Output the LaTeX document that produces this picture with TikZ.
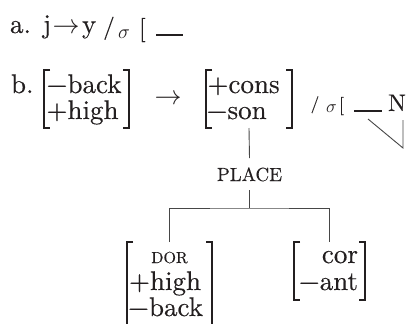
\RequirePackage{fix-cm}
\documentclass[tikz,border=0pt]{standalone}
\usepackage{fontspec}
\setmainfont{lmroman10-regular.otf}[FakeBold=0.3]
\definecolor{ink}{RGB}{35,31,32}
\definecolor{rule}{RGB}{70,70,70}
\newcommand\fsz[1]{\fontsize{#1bp}{#1bp}\selectfont}
\tikzset{
  every node/.style={inner sep=0pt, outer sep=0pt, text=ink, font=\fsz{27}},
  tx/.style={anchor=base west, text height=17bp, text depth=3bp},
  txr/.style={anchor=base east, text height=17bp, text depth=3bp},
  brk/.style={line width=1.1bp, draw=ink},
  tree/.style={line width=0.9bp, draw=rule},
  box/.style={draw=none, rectangle},
}
\begin{document}
\begin{tikzpicture}[x=1bp,y=-1bp]
\useasboundingbox (0,0) rectangle (414,324);
% line a
\node[tx] (la) at (10,33) {a.};
\node[tx] (aj) at (43,33) {j};
\node[anchor=base] (aarr) at (66,33) {$\rightarrow$};
\node[tx] (ay) at (82,33) {y};
\node[anchor=base, font=\fsz{23}] (asl) at (109,34) {/};
\node[tx, font=\fsz{20}] (asig) at (118,38) {$\sigma$};
\node[tx, font=\fsz{24}] (abr) at (139,36) {[};
\coordinate (au1) at (156,35);
\coordinate (au2) at (183,35);
\draw[brk] (au1) -- (au2);
% line b
\node[tx] (lb) at (11,93) {b.};
\node[box, minimum width=85bp, minimum height=58bp, anchor=north west] (m1) at (44,70) {};
\node[tx] (m1a) at (46.5,93) {−back};
\node[tx] (m1b) at (46.5,119) {+high};
\node[anchor=base] (barr) at (168,104.6) {$\rightarrow$};
\node[box, minimum width=86bp, minimum height=58bp, anchor=north west] (m2) at (206,70) {};
\node[tx] (m2a) at (207.5,93) {+cons};
\node[tx] (m2b) at (206.5,119) {−son};
\node[anchor=base, font=\fsz{17}] (bsl) at (315,109) {/};
\node[tx, font=\fsz{18}] (bsig) at (326,112) {$\sigma$};
\node[tx, font=\fsz{18}] (bbr) at (339,110.5) {[};
\coordinate (bu1) at (354,111);
\coordinate (bu2) at (382,111);
\draw[brk] (bu1) -- (bu2);
\node[tx, font=\fsz{24}] (bN) at (388,111) {N};
\coordinate (d1) at (368,119);
\coordinate (d2) at (403,148);
\coordinate (d3) at (403,120);
\draw[tree] (d1) -- (d2) -- (d3);
% tree
\node[anchor=base, font=\fsz{19}] (place) at (249.5,181) {PLACE};
\node[box, minimum width=85bp, minimum height=90bp, anchor=north west] (m3) at (127,242) {};
\node[anchor=base, font=\fsz{16}] (dor) at (169.5,263) {DOR};
\node[tx] (m3b) at (129,290) {+high};
\node[tx] (m3c) at (128,316) {−back};
\node[box, minimum width=71bp, minimum height=58bp, anchor=north west] (m4) at (294,242) {};
\node[txr] (m4a) at (358,263) {cor};
\node[txr] (m4b) at (358,290) {−ant};
\coordinate (pt) at (249.5,158);
\coordinate (pb) at (249.5,190);
\coordinate (hj) at (249.5,208);
\draw[tree] (m2.south) -- (pt);
\draw[tree] (pb) -- (hj);
\draw[tree] (m3.north) |- (hj) -| (m4.north);
% brackets
\foreach \m in {m1,m2,m4}{
  \draw[brk] ([xshift=6bp]\m.north west) -- (\m.north west) -- (\m.south west) -- ([xshift=6bp]\m.south west);
  \draw[brk] ([xshift=-6bp]\m.north east) -- (\m.north east) -- (\m.south east) -- ([xshift=-6bp]\m.south east);
}
\draw[brk] ([xshift=6bp]m3.north west) -- (m3.north west) -- (m3.south west);
\draw[brk] ([xshift=-6bp]m3.north east) -- (m3.north east) -- (m3.south east);
\end{tikzpicture}
\end{document}
